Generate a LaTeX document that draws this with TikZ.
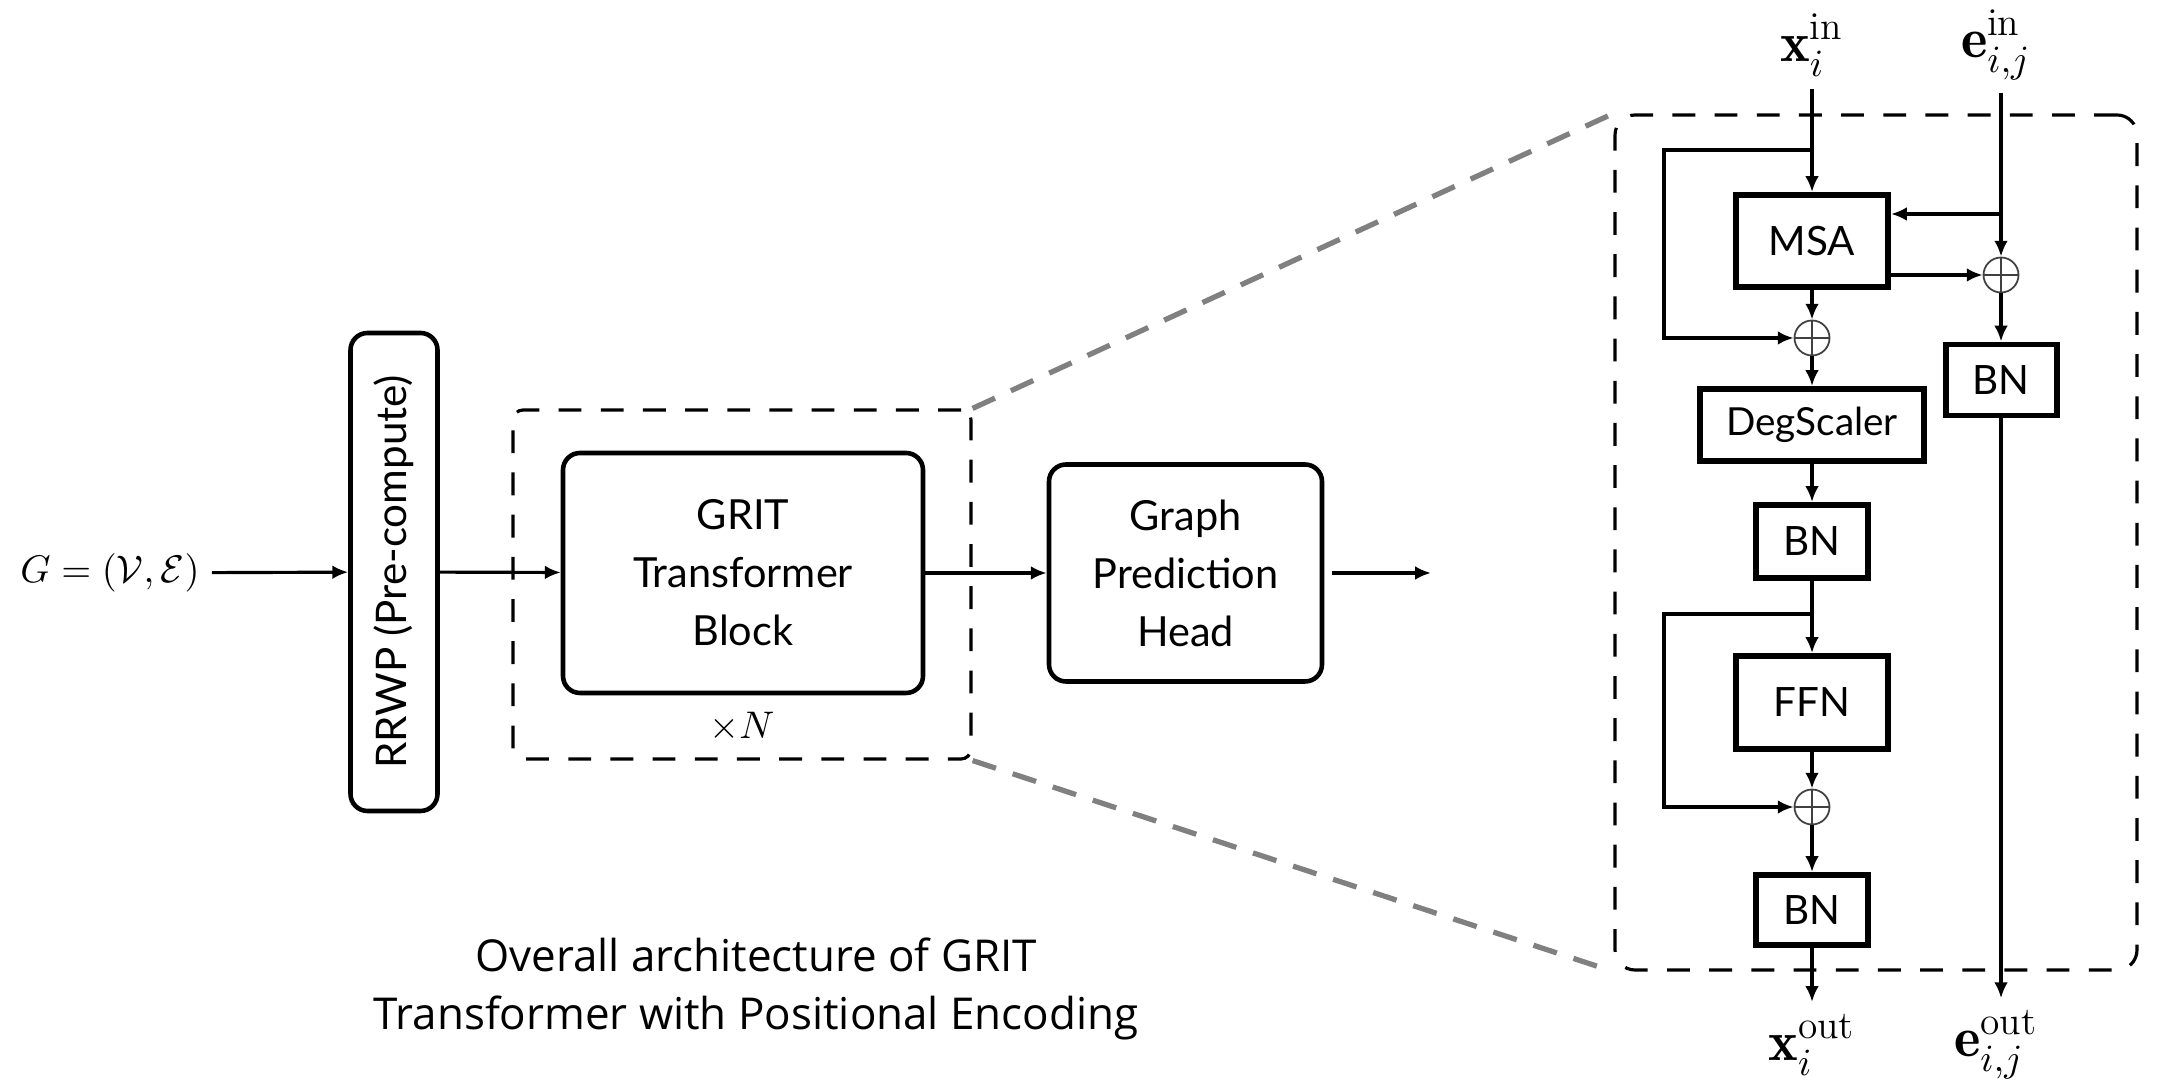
\documentclass[tikz,border=0pt]{standalone}
\usepackage{amsmath}
\usepackage{fontspec}
\newfontfamily\blockfont{Lato}
\newfontfamily\capfont{Open Sans}
\usetikzlibrary{positioning, shapes, arrows.meta, calc}

\tikzset{
  block/.style={rectangle, draw, rounded corners=1.7mm, line width=1.3pt, align=center,
    font=\blockfont\fontsize{11.8}{16.5}\selectfont},
  layer/.style={rectangle, draw, line width=1.7pt, inner sep=0pt,
    font=\blockfont\fontsize{11.5}{14}\selectfont},
  sumnode/.style={circle, draw=black!75, line width=0.5pt, minimum size=3.5mm, inner sep=0pt,
    path picture={\draw[black!75, line width=0.5pt]
      (path picture bounding box.north) -- (path picture bounding box.south)
      (path picture bounding box.west) -- (path picture bounding box.east);}},
  dashbox/.style={rectangle, draw, dash pattern=on 6.5pt off 5.5pt, line width=0.9pt},
  zoomline/.style={draw=black!50, line width=1.5pt, dash pattern=on 7pt off 5pt},
  conn/.style={-{Latex[length=4.5pt,width=3.9pt]}, line width=0.9pt},
  vec/.style={font=\fontsize{16}{18}\selectfont}
}

\begin{document}
\begin{tikzpicture}
                  \useasboundingbox (0,0) rectangle (21.74,-10.81);

                  % Overall pipeline
                  \node[font=\fontsize{11}{13}\selectfont] (input) at (1.10,-5.73) {$G=(\mathcal{V},\mathcal{E})$};
                  \node[block, rotate=90, minimum width=4.78cm, minimum height=0.87cm, font=\blockfont\fontsize{12}{14}\selectfont] (rrwp) at (3.94,-5.72) {RRWP (Pre-compute)};
                  \node[dashbox, rounded corners=1mm, minimum width=4.58cm, minimum height=3.49cm] (stack) at (7.42,-5.845) {};
                  \node[block, minimum width=3.60cm, minimum height=2.40cm] (grit) at (7.43,-5.73) {GRIT\\Transformer\\Block};
                  \node[font=\fontsize{11}{13}\selectfont] (times) at (7.42,-7.27) {$\times N$};
                  \node[block, minimum width=2.73cm, minimum height=2.17cm] (head) at (11.855,-5.73) {Graph\\Prediction\\Head};
                  \coordinate (output) at (14.31,-5.73);

                  \draw[conn] (input) -- (rrwp);
                  \draw[conn] (rrwp) -- (grit);
                  \draw[conn] (grit) -- (head);
                  \draw[conn, shorten <=0.8mm] (head) -- (output);

                  % Zoomed layer
                  \node[dashbox, rounded corners=2mm, minimum width=5.22cm, minimum height=8.55cm] (zoom) at (18.76,-5.425) {};
                  \draw[zoomline] (stack.north east) -- (zoom.north west);
                  \draw[zoomline] (stack.south east) -- (zoom.south west);

                  \node[vec] (xin) at (18.12,-0.45) {$\mathbf{x}_i^{\mathrm{in}}$};
                  \node[vec] (ein) at (19.96,-0.45) {$\mathbf{e}_{i,j}^{\mathrm{in}}$};
                  \node[layer, minimum width=1.52cm, minimum height=0.92cm] (msa) at (18.12,-2.41) {MSA};
                  \node[sumnode] (esum) at (20.01,-2.75) {};
                  \node[sumnode] (sum1) at (18.12,-3.38) {};
                  \node[layer, minimum width=1.11cm, minimum height=0.71cm] (ebn) at (20.01,-3.80) {BN};
                  \node[layer, minimum width=2.24cm, minimum height=0.72cm, font=\blockfont\fontsize{11}{13}\selectfont] (deg) at (18.12,-4.25) {DegScaler};
                  \node[layer, minimum width=1.12cm, minimum height=0.73cm] (bn1) at (18.12,-5.415) {BN};
                  \node[layer, minimum width=1.52cm, minimum height=0.93cm] (ffn) at (18.12,-7.025) {FFN};
                  \node[sumnode] (sum2) at (18.12,-8.07) {};
                  \node[layer, minimum width=1.12cm, minimum height=0.70cm] (bn2) at (18.12,-9.10) {BN};
                  \node[vec] (xout) at (18.12,-10.45) {$\mathbf{x}_i^{\mathrm{out}}$};
                  \node[vec] (eout) at (19.96,-10.45) {$\mathbf{e}_{i,j}^{\mathrm{out}}$};
                  \coordinate (skipa) at (16.64,-1.50);
                  \coordinate (skipb) at (16.64,-6.14);
                  \coordinate (etap) at (20.01,-2.14);

                  \draw[conn] (xin) -- (msa);
                  \draw[conn] (msa.north |- skipa) -- (skipa) |- (sum1);
                  \draw[conn] (esum |- ein.south) -- (esum);
                  \draw[conn] (etap) -- (msa.east |- etap);
                  \draw[conn] (msa.east |- esum) -- (esum);
                  \draw[conn] (msa) -- (sum1);
                  \draw[conn] (sum1) -- (deg);
                  \draw[conn] (esum) -- (ebn);
                  \draw[conn] (deg) -- (bn1);
                  \draw[conn] (bn1) -- (ffn);
                  \draw[conn] (bn1.south |- skipb) -- (skipb) |- (sum2);
                  \draw[conn] (ffn) -- (sum2);
                  \draw[conn] (sum2) -- (bn2);
                  \draw[conn] (bn2) -- (xout);
                  \draw[conn] (ebn) -- (ebn.south |- eout.north);

                  % Caption
                  \node[font=\capfont\fontsize{12.5}{16.5}\selectfont, align=center] (caption) at (7.56,-9.89) {Overall architecture of GRIT\\Transformer with Positional Encoding};
              \end{tikzpicture}
\end{document}
